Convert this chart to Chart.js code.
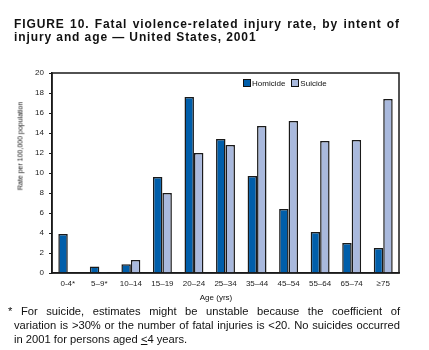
<!DOCTYPE html>
<html>
<head>
<meta charset="utf-8">
<script src="https://cdn.jsdelivr.net/npm/chart.js@4.4.0/dist/chart.umd.min.js"></script>
<style>
  body { margin: 0; background: #fff; font-family: "Liberation Sans", Arial, sans-serif; color: #111; }
  #wrap { position: relative; width: 429px; height: 350px; overflow: hidden; }
  #chart { position: absolute; left: 0; top: 0; }
  #title { position: absolute; left: 14px; top: 18px; width: 386px; font-weight: bold; font-size: 12px;
           line-height: 13px; letter-spacing: 0.9px; white-space: nowrap; }
  #title div { text-align: justify; text-align-last: justify; }
  #title div.last { text-align-last: left; }
  #ylabel { position: absolute; left: 20px; top: 146px; font-size: 7px; white-space: nowrap;
            transform: translate(-50%, -50%) rotate(-90deg); }
  #xlabel { position: absolute; left: 216px; top: 297px; font-size: 8px; transform: translate(-50%, -50%); white-space: nowrap; }
  #legend { position: absolute; left: 243px; top: 79px; font-size: 8px; white-space: nowrap; line-height: 9px; }
  #legend span.box { display: inline-block; width: 6px; height: 6px; border: 1px solid #111; vertical-align: -1px; margin-right: 1px; }
  #legend span.item { margin-right: 6px; }
  #note { position: absolute; left: 8px; top: 304px; width: 392px; font-size: 11.2px; line-height: 14px; }
  #note div { text-align: justify; text-align-last: justify; white-space: nowrap; }
  #note div.in { padding-left: 6px; }
  #note div.last { text-align-last: left; }
</style>
</head>
<body>
<div id="wrap">
  <canvas id="chart" width="429" height="300"></canvas>
  <div id="title">
    <div>FIGURE 10. Fatal violence-related injury rate, by intent of</div>
    <div class="last">injury and age — United States, 2001</div>
  </div>
  <div id="ylabel">Rate per 100,000 population</div>
  <div id="xlabel">Age (yrs)</div>
  <div id="legend">
    <span class="item"><span class="box" style="background:#005eaa"></span>Homicide</span><span><span class="box" style="background:#a9b9dd"></span>Suicide</span>
  </div>
  <div id="note">
    <div style="white-space:normal">* For suicide, estimates might be unstable because the coefficient of</div>
    <div class="in" style="white-space:normal">variation is &gt;30% or the number of fatal injuries is &lt;20. No suicides occurred</div>
    <div class="in last">in 2001 for persons aged <u>&lt;</u>4 years.</div>
  </div>
</div>
<script>
// Data
const ageGroups = ['0-4*', '5–9*', '10–14', '15–19', '20–24', '25–34', '35–44', '45–54', '55–64', '65–74', '≥75'];
const homicide = [3.9, 0.65, 0.87, 9.6, 17.6, 13.4, 9.7, 6.4, 4.1, 3.0, 2.5];
const suicide = [null, 0.1, 1.3, 8.0, 12.0, 12.8, 14.7, 15.2, 13.2, 13.3, 17.4];
const yTicks = [0, 2, 4, 6, 8, 10, 12, 14, 16, 18, 20];

// Frame round the plot area
const framePlugin = {
    id: 'frame',
    afterDraw(chart) {
        const a = chart.chartArea;
        const ctx = chart.ctx;
        ctx.save();
        ctx.strokeStyle = '#1a1a1a';
        ctx.lineWidth = 1.5;
        ctx.strokeRect(a.left, a.top, a.right - a.left, a.bottom - a.top);
        ctx.restore();
    }
};

function initializeChart() {
    const ctx = document.getElementById('chart');
    new Chart(ctx, {
        type: 'bar',
        data: {
            labels: ageGroups,
            datasets: [{
                label: 'Homicide',
                data: homicide,
                backgroundColor: '#005eaa',
                borderColor: '#1a1a1a',
                borderWidth: 1.5,
                borderSkipped: 'bottom'
            }, {
                label: 'Suicide',
                data: suicide,
                backgroundColor: '#a9b9dd',
                borderColor: '#1a1a1a',
                borderWidth: 1.5,
                borderSkipped: 'bottom'
            }]
        },
        options: {
            responsive: false,
            devicePixelRatio: 1,
            animation: false,
            layout: { padding: { top: 73, right: 30, left: 0, bottom: 0 } },
            categoryPercentage: 0.6,
            barPercentage: 1.0,
            plugins: {
                legend: { display: false },
                tooltip: { enabled: false }
            },
            scales: {
                x: {
                    grid: { display: false, drawTicks: false },
                    border: { color: '#1a1a1a', width: 1.5 },
                    ticks: { color: '#222', font: { family: 'Liberation Sans', size: 8 }, padding: 6, maxRotation: 0, autoSkip: false },
                    afterFit: function(s) { s.height = 27; }
                },
                y: {
                    min: 0,
                    max: 20,
                    afterBuildTicks: function(s) { s.ticks = yTicks.map(v => ({ value: v })); },
                    grid: { drawOnChartArea: false, drawTicks: true, tickLength: 3, color: '#1a1a1a' },
                    border: { color: '#1a1a1a', width: 1.5 },
                    ticks: { color: '#222', font: { family: 'Liberation Sans', size: 8 }, padding: 5 },
                    afterFit: function(s) { s.width = 52; }
                }
            }
        },
        plugins: [framePlugin]
    });
}

initializeChart();
</script>
</body>
</html>
